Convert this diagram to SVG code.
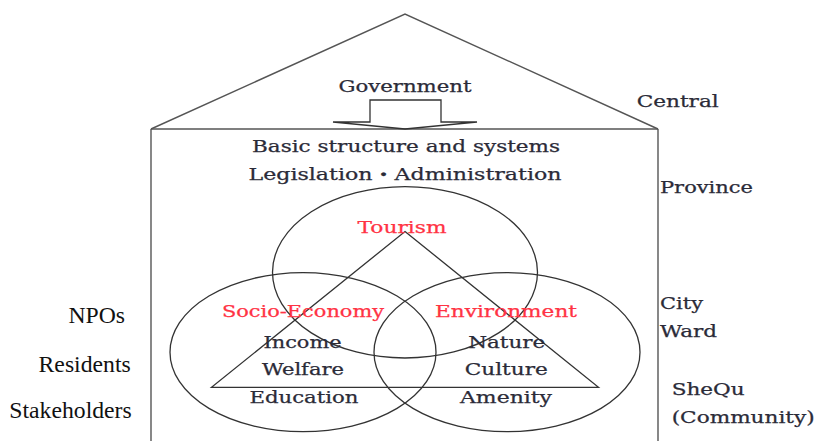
<svg xmlns="http://www.w3.org/2000/svg" width="817" height="441" viewBox="0 0 817 441">
  <style>
    .line { fill: none; stroke: #333; stroke-width: 1.3; }
    .wall { fill: none; stroke: #555; stroke-width: 1.4; }
    .lbl { font-family: "DejaVu Serif", "Liberation Serif", "Noto Sans CJK JP", serif; font-size: 16px; fill: #2b2b38; stroke: #2b2b38; stroke-width: 0.25; }
    .red { fill: #ff3344; stroke: #ff3344; }
    .side { font-family: "Liberation Serif", serif; font-size: 23.7px; fill: #111; text-anchor: end; }
  </style>
  <rect width="817" height="441" fill="#ffffff"/>

  <!-- House outline: roof, ceiling and walls -->
  <g id="house">
    <polyline class="wall" points="151,129 405,14 658,129"/>
    <line class="wall" x1="151" y1="129" x2="658" y2="129"/>
    <line class="wall" x1="151" y1="129" x2="151" y2="441"/>
    <line class="wall" x1="658" y1="129" x2="658" y2="441"/>
  </g>

  <!-- Government with its block arrow -->
  <g id="government">
    <text class="lbl" x="405" y="91.5" text-anchor="middle" textLength="133" lengthAdjust="spacingAndGlyphs">Government</text>
    <polygon class="line" fill="#fff" points="370,100 441,100 441,122 477,122 405,129 333,122 370,122"/>
  </g>

  <g id="basics">
    <text class="lbl" x="406" y="151.5" text-anchor="middle" textLength="308" lengthAdjust="spacingAndGlyphs">Basic structure and systems</text>
    <text class="lbl" x="405" y="179.5" text-anchor="middle" textLength="313" lengthAdjust="spacingAndGlyphs">Legislation・Administration</text>
  </g>

  <!-- Three overlapping domains and the linking triangle -->
  <g id="connectors">
    <ellipse class="line" cx="405" cy="272.3" rx="132.5" ry="85.7"/>
    <ellipse class="line" cx="303" cy="352.2" rx="133" ry="79.5"/>
    <ellipse class="line" cx="507" cy="352.2" rx="133" ry="79.5"/>
    <polygon class="line" points="405,231.5 598.5,387.3 211.5,387.3"/>
  </g>

  <g id="tourism">
    <text class="lbl red" x="402" y="233.3" text-anchor="middle" textLength="89" lengthAdjust="spacingAndGlyphs">Tourism</text>
  </g>

  <g id="socio-economy">
    <text class="lbl red" x="303" y="317.3" text-anchor="middle" textLength="162" lengthAdjust="spacingAndGlyphs">Socio-Economy</text>
    <text class="lbl" x="302.5" y="348.3" text-anchor="middle" textLength="78" lengthAdjust="spacingAndGlyphs">Income</text>
    <text class="lbl" x="303" y="375" text-anchor="middle" textLength="82" lengthAdjust="spacingAndGlyphs">Welfare</text>
    <text class="lbl" x="304" y="403.3" text-anchor="middle" textLength="109" lengthAdjust="spacingAndGlyphs">Education</text>
  </g>

  <g id="environment">
    <text class="lbl red" x="506" y="317.3" text-anchor="middle" textLength="142" lengthAdjust="spacingAndGlyphs">Environment</text>
    <text class="lbl" x="506.7" y="348.3" text-anchor="middle" textLength="77" lengthAdjust="spacingAndGlyphs">Nature</text>
    <text class="lbl" x="506.3" y="375" text-anchor="middle" textLength="83" lengthAdjust="spacingAndGlyphs">Culture</text>
    <text class="lbl" x="506" y="403.3" text-anchor="middle" textLength="92" lengthAdjust="spacingAndGlyphs">Amenity</text>
  </g>

  <!-- Administrative levels -->
  <g id="levels">
    <text class="lbl" x="636.7" y="106.7" textLength="82" lengthAdjust="spacingAndGlyphs">Central</text>
    <text class="lbl" x="660" y="193" textLength="93" lengthAdjust="spacingAndGlyphs">Province</text>
    <text class="lbl" x="660" y="309" textLength="43" lengthAdjust="spacingAndGlyphs">City</text>
    <text class="lbl" x="660" y="336.7" textLength="57" lengthAdjust="spacingAndGlyphs">Ward</text>
    <text class="lbl" x="671.7" y="395" textLength="73" lengthAdjust="spacingAndGlyphs">SheQu</text>
    <text class="lbl" x="671.7" y="423" textLength="143" lengthAdjust="spacingAndGlyphs">(Community)</text>
  </g>

  <!-- Local actors -->
  <g id="actors">
    <text class="side" x="125" y="323">NPOs</text>
    <text class="side" x="130.7" y="371.7">Residents</text>
    <text class="side" x="131.7" y="418">Stakeholders</text>
  </g>
</svg>
